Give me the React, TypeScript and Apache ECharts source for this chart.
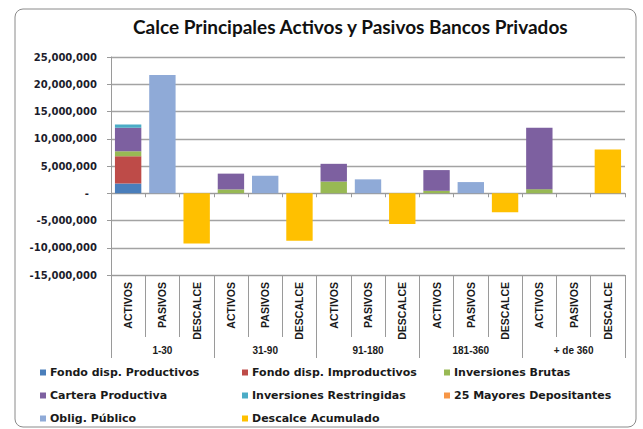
import React, { useEffect, useRef } from "react";
import * as echarts from "echarts";

const groups = ["1-30", "31-90", "91-180", "181-360", "+ de 360"];
const subCats = ["ACTIVOS", "PASIVOS", "DESCALCE"];
const yTicks = { min: -15000000, max: 25000000, interval: 5000000 };

// ACTIVOS components per group
const fondoProductivos = [1800000, 0, 0, 0, 0];
const fondoImproductivos = [5000000, 0, 0, 0, 0];
const inversionesBrutas = [900000, 700000, 2150000, 450000, 750000];
const carteraProductiva = [4300000, 2900000, 3250000, 3800000, 11250000];
const inversionesRestringidas = [600000, 0, 0, 0, 0];
const mayoresDepositantes = [0, 0, 0, 0, 0];
// PASIVOS
const obligPublico = [21700000, 3200000, 2550000, 2050000, 0];
// DESCALCE
const descalceAcumulado = [-9200000, -8700000, -5650000, -3500000, 8050000];

const seriesDefs = [
  { name: "Fondo disp. Productivos", values: fondoProductivos, slot: 0, color: "#4A7EBB" },
  { name: "Fondo disp. Improductivos", values: fondoImproductivos, slot: 0, color: "#BE4B48" },
  { name: "Inversiones Brutas", values: inversionesBrutas, slot: 0, color: "#98B954" },
  { name: "Cartera Productiva", values: carteraProductiva, slot: 0, color: "#7D60A0" },
  { name: "Inversiones Restringidas", values: inversionesRestringidas, slot: 0, color: "#4BACC6" },
  { name: "25 Mayores Depositantes", values: mayoresDepositantes, slot: 0, color: "#F79646" },
  { name: "Oblig. Público", values: obligPublico, slot: 1, color: "#8FAAD7" },
  { name: "Descalce Acumulado", values: descalceAcumulado, slot: 2, color: "#FFC000" },
];

const legendColumns = [
  ["Fondo disp. Productivos", "Cartera Productiva", "Oblig. Público"],
  ["Fondo disp. Improductivos", "Inversiones Restringidas", "Descalce Acumulado"],
  ["Inversiones Brutas", "25 Mayores Depositantes"],
];

const FONT = "'Liberation Sans', Arial, sans-serif";
const AXIS_GRAY = "#9a9a9a";

export default function App() {
  const ref = useRef<HTMLDivElement>(null);
  useEffect(() => {
    if (!ref.current) return;
    const chart = echarts.init(ref.current, null, { renderer: "svg" });
    const cats: string[] = [];
    groups.forEach((g) => subCats.forEach((s) => cats.push(s)));

    const series = seriesDefs.map((d) => {
      const data: any[] = [];
      groups.forEach((g, gi) => {
        subCats.forEach((s, si) => {
          const v = si === d.slot ? d.values[gi] : 0;
          data.push(v === 0 ? "-" : v);
        });
      });
      return {
        name: d.name,
        type: "bar",
        stack: "total",
        xAxisIndex: 0,
        yAxisIndex: 0,
        barCategoryGap: "23%",
        itemStyle: { color: d.color },
        data,
      };
    });

    const legendBase = {
      orient: "vertical",
      top: 366,
      height: 80,
      padding: 0,
      itemWidth: 6,
      itemHeight: 6,
      itemGap: 10,
      icon: "rect",
      selectedMode: false,
      textStyle: {
        fontFamily: "'DejaVu Sans', sans-serif",
        fontWeight: "bold",
        fontSize: 11,
        color: "#1a1a1a",
        padding: [0, 0, 0, -1],
        lineHeight: 13,
      },
    };

    chart.setOption({
      animation: false,
      backgroundColor: "#ffffff",
      title: {
        text: "Calce Principales Activos y Pasivos Bancos Privados",
        left: 133,
        top: 17,
        padding: 0,
        textStyle: {
          fontFamily: "Lato, 'Open Sans', sans-serif",
          fontWeight: "bold",
          fontSize: 19,
          color: "#111",
        },
      },
      graphic: [
        {
          type: "rect",
          shape: { x: 15, y: 9, width: 621, height: 418, r: 8 },
          style: { fill: "none", stroke: "#8a8a8a", lineWidth: 1 },
          silent: true,
          z: -10,
        },
      ],
      legend: legendColumns.map((col, i) => ({
        ...legendBase,
        left: [40, 242, 444][i],
        width: 200,
        data: col,
      })),
      grid: { left: 111, right: 18, top: 57, bottom: 154, containLabel: false },
      xAxis: [
        {
          type: "category",
          data: cats,
          position: "bottom",
          axisLine: { onZero: false, lineStyle: { color: AXIS_GRAY, width: 1 } },
          axisTick: { show: true, interval: 0, length: 62, lineStyle: { color: AXIS_GRAY } },
          axisLabel: {
            interval: 0,
            rotate: 90,
            margin: 7,
            fontFamily: FONT,
            fontWeight: "bold",
            fontSize: 10.5,
            color: "#1a1a1a",
          },
          splitLine: { show: false },
        },
        {
          type: "category",
          data: groups,
          position: "bottom",
          axisLine: { show: false, onZero: false },
          axisTick: { show: true, interval: 0, length: 83, lineStyle: { color: AXIS_GRAY } },
          axisLabel: {
            interval: 0,
            margin: 70,
            fontFamily: FONT,
            fontWeight: "bold",
            fontSize: 10,
            color: "#1a1a1a",
          },
          splitLine: { show: false },
        },
        {
          type: "category",
          data: cats,
          position: "top",
          axisLine: { onZero: true, lineStyle: { color: AXIS_GRAY, width: 1 } },
          axisTick: { show: true, inside: true, interval: 0, length: 4, lineStyle: { color: AXIS_GRAY } },
          axisLabel: { show: false },
          splitLine: { show: false },
        },
      ],
      yAxis: [
        {
          type: "value",
          min: yTicks.min,
          max: yTicks.max,
          interval: yTicks.interval,
          axisLine: { show: true, lineStyle: { color: AXIS_GRAY } },
          axisTick: { show: true, length: 4, lineStyle: { color: AXIS_GRAY } },
          splitLine: { show: true, lineStyle: { color: "#a3a3a3", width: 1.3 } },
          axisLabel: {
            margin: 14,
            fontFamily: "'DejaVu Sans', sans-serif",
            fontWeight: "bold",
            fontSize: 10,
            color: "#1c1c2c",
            formatter: (v: number) => (v === 0 ? "{z|-}" : v.toLocaleString("en-US")),
            rich: { z: { padding: [0, 8, 0, 0] } },
          },
        },
      ],
      series,
    });
    return () => chart.dispose();
  }, []);
  return (
    <div
      ref={ref}
      style={{ position: "fixed", left: 0, top: 0, width: 643, height: 429, background: "#fff" }}
    />
  );
}
